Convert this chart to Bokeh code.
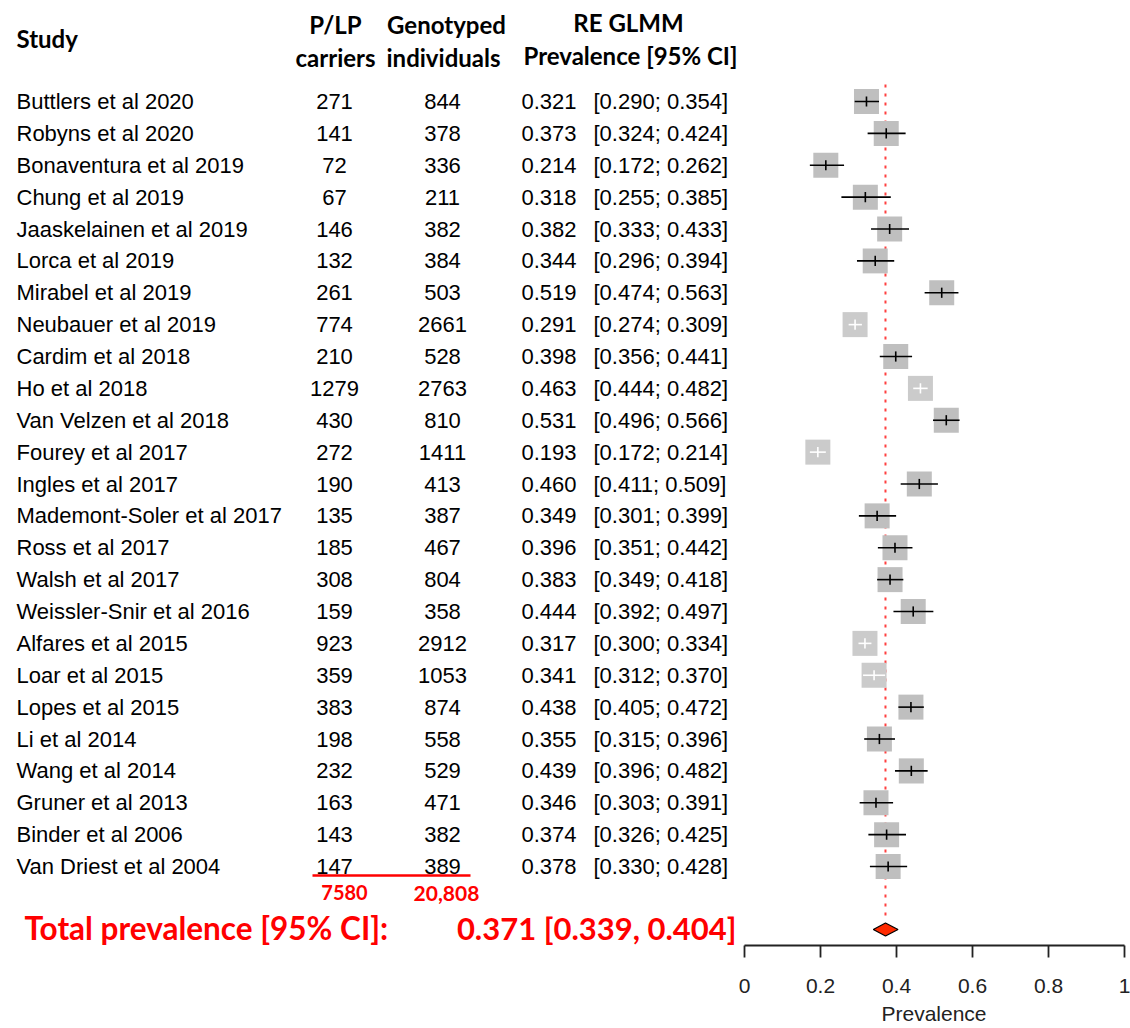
import numpy as np
from bokeh.plotting import figure
from bokeh.layouts import row
from bokeh.models import (ColumnDataSource, LinearAxis, FixedTicker, NumeralTickFormatter, Range1d)
from bokeh.core.properties import value
from bokeh.embed import file_html
from bokeh.resources import INLINE

# ---------------- data ----------------
studies = ["Buttlers et al 2020", "Robyns et al 2020", "Bonaventura et al 2019", "Chung et al 2019",
           "Jaaskelainen et al 2019", "Lorca et al 2019", "Mirabel et al 2019", "Neubauer et al 2019",
           "Cardim et al 2018", "Ho et al 2018", "Van Velzen et al 2018", "Fourey et al 2017",
           "Ingles et al 2017", "Mademont-Soler et al 2017", "Ross et al 2017", "Walsh et al 2017",
           "Weissler-Snir et al 2016", "Alfares et al 2015", "Loar et al 2015", "Lopes et al 2015",
           "Li et al 2014", "Wang et al  2014", "Gruner et al 2013", "Binder et al 2006",
           "Van Driest et al 2004"]
carriers = [271, 141, 72, 67, 146, 132, 261, 774, 210, 1279, 430, 272, 190, 135, 185, 308, 159,
            923, 359, 383, 198, 232, 163, 143, 147]
genotyped = [844, 378, 336, 211, 382, 384, 503, 2661, 528, 2763, 810, 1411, 413, 387, 467, 804, 358,
             2912, 1053, 874, 558, 529, 471, 382, 389]
prevalence = [0.321, 0.373, 0.214, 0.318, 0.382, 0.344, 0.519, 0.291, 0.398, 0.463, 0.531, 0.193,
              0.460, 0.349, 0.396, 0.383, 0.444, 0.317, 0.341, 0.438, 0.355, 0.439, 0.346, 0.374, 0.378]
ci_lower = [0.290, 0.324, 0.172, 0.255, 0.333, 0.296, 0.474, 0.274, 0.356, 0.444, 0.496, 0.172,
            0.411, 0.301, 0.351, 0.349, 0.392, 0.300, 0.312, 0.405, 0.315, 0.396, 0.303, 0.326, 0.330]
ci_upper = [0.354, 0.424, 0.262, 0.385, 0.433, 0.394, 0.563, 0.309, 0.441, 0.482, 0.566, 0.214,
            0.509, 0.399, 0.442, 0.418, 0.497, 0.334, 0.370, 0.472, 0.396, 0.482, 0.391, 0.425, 0.428]
total_carriers = "7580"
total_genotyped = "20,808"
pooled, pooled_lo, pooled_hi = 0.371, 0.339, 0.404
axis_ticks = [0, 0.2, 0.4, 0.6, 0.8, 1]
axis_title = "Prevalence"

# ---------------- layout helpers (page pixel -> data units) ----------------
X0_PX, X_PER = 744.0, 380.0
Y0_PX, Y_PER = 866.0, 31.875
SPLIT = 737            # page x where the table panel ends and the forest panel starts
def dx(px): return (px - X0_PX) / X_PER
def dy(py): return (Y0_PX - py) / Y_PER

n = len(studies)
ys = [n - 1 - i for i in range(n)]
inside = [(h - l) / 2 < 0.031 for l, h in zip(ci_lower, ci_upper)]

src = ColumnDataSource(dict(
    y=ys, study=studies,
    car=[str(v) for v in carriers], gen=[str(v) for v in genotyped],
    prev=prevalence, lo=ci_lower, hi=ci_upper,
    prev_s=[f"{v:.3f}" for v in prevalence],
    ci_s=[f"[{l:.3f}; {h:.3f}]" for l, h in zip(ci_lower, ci_upper)],
    box=["#cbcbcb" if f else "#bfbfbf" for f in inside],
    lc=["white" if f else "black" for f in inside],
    t0=[y - 0.16 for y in ys], t1=[y + 0.16 for y in ys],
))

yr = Range1d(dy(945), dy(0))

def make_fig(x0, x1):
    f = figure(frame_width=x1 - x0, frame_height=945,
               x_range=Range1d(dx(x0), dx(x1)), y_range=yr,
               toolbar_location=None, output_backend="svg",
               x_axis_location=None, y_axis_location=None,
               min_border_left=0, min_border_right=0, min_border_top=0, min_border_bottom=83)
    f.outline_line_color = None
    f.xgrid.visible = False
    f.ygrid.visible = False
    f.background_fill_color = "white"
    f.border_fill_color = "white"
    return f

t = make_fig(0, SPLIT)        # table panel
p = make_fig(SPLIT, 1130)     # forest panel

TXT = value("Liberation Sans")
HDR = value("Lato")
FS = "22px"

# table text
t.text(x=dx(16), y="y", text="study", source=src, text_font=TXT, text_font_size=FS,
       text_baseline="middle", text_align="left", text_color="black")
t.text(x=dx(334), y="y", text="car", source=src, text_font=TXT, text_font_size=FS,
       text_baseline="middle", text_align="center", text_color="black")
t.text(x=dx(442), y="y", text="gen", source=src, text_font=TXT, text_font_size=FS,
       text_baseline="middle", text_align="center", text_color="black")
t.text(x=dx(521), y="y", text="prev_s", source=src, text_font=TXT, text_font_size=FS,
       text_baseline="middle", text_align="left", text_color="black")
t.text(x=dx(593), y="y", text="ci_s", source=src, text_font=TXT, text_font_size=FS,
       text_baseline="middle", text_align="left", text_color="black")

# headers
def hdr(x, y, s, align="center"):
    t.text(x=[dx(x)], y=[dy(y)], text=[s], text_font=HDR, text_font_size="24px",
           text_font_style="bold", text_baseline="middle", text_align=align, text_color="black")
hdr(16, 38, "Study", "left")
hdr(335, 24, "P/LP")
hdr(335, 57, "carriers")
hdr(446, 24, "Genotyped")
hdr(443, 57, "individuals")
hdr(628, 22, "RE GLMM")
hdr(630, 55, "Prevalence [95% CI]")

# totals
t.segment(x0=[dx(312)], x1=[dx(470)], y0=[dy(875)], y1=[dy(875)], line_color="red", line_width=2.5)
t.text(x=[dx(344)], y=[dy(892)], text=[total_carriers], text_font=HDR, text_font_size="20px",
       text_font_style="bold", text_baseline="middle", text_align="center", text_color="red")
t.text(x=[dx(446)], y=[dy(893)], text=[total_genotyped], text_font=HDR, text_font_size="21px",
       text_font_style="bold", text_baseline="middle", text_align="center", text_color="red")
t.text(x=[dx(24)], y=[dy(927)], text=["Total prevalence [95% CI]:"], text_font=HDR,
       text_font_size="31.5px", text_font_style="bold", text_baseline="middle", text_align="left",
       text_color="red")
t.text(x=[dx(736)], y=[dy(927)], text=[f"{pooled:.3f} [{pooled_lo:.3f}, {pooled_hi:.3f}]"],
       text_font=HDR, text_font_size="31px", text_font_style="bold", text_baseline="middle",
       text_align="right", text_color="red")

# pooled reference line
p.segment(x0=[pooled], x1=[pooled], y0=[dy(84)], y1=[dy(921)], line_color="#ff4040",
          line_width=2, line_dash="3 6")

# study boxes and CIs
p.scatter(x="prev", y="y", source=src, marker="square", size=25, fill_color="box",
          line_color=None)
p.segment(x0="lo", x1="hi", y0="y", y1="y", source=src, line_color="lc", line_width=1.6)
p.segment(x0="prev", x1="prev", y0="t0", y1="t1", source=src, line_color="lc", line_width=1.6)

# pooled diamond
yd = dy(929)
hd = 6.5 / Y_PER
p.patch(x=[pooled_lo, pooled, pooled_hi, pooled], y=[yd, yd + hd, yd, yd - hd],
        fill_color="#ff2a00", line_color="black", line_width=1.2)

# x axis (0..1)
ax = LinearAxis(bounds=(0, 1), ticker=FixedTicker(ticks=axis_ticks),
                formatter=NumeralTickFormatter(format="0.[0]"), axis_label=axis_title)
ax.axis_line_color = "#222222"
ax.axis_line_width = 1.8
ax.major_tick_line_color = "#222222"
ax.major_tick_line_width = 1.8
ax.major_tick_out = 12
ax.major_tick_in = 0
ax.minor_tick_line_color = None
ax.major_label_text_font = "Liberation Sans"
ax.major_label_text_font_size = "21px"
ax.major_label_text_color = "#222222"
ax.major_label_standoff = 21
ax.axis_label_text_font = "Liberation Sans"
ax.axis_label_text_font_size = "21px"
ax.axis_label_text_font_style = "normal"
ax.axis_label_text_color = "#222222"
ax.axis_label_standoff = 6
p.add_layout(ax, "below")

layout = row(t, p, spacing=0)
open("out.html", "w").write(file_html(layout, INLINE))
